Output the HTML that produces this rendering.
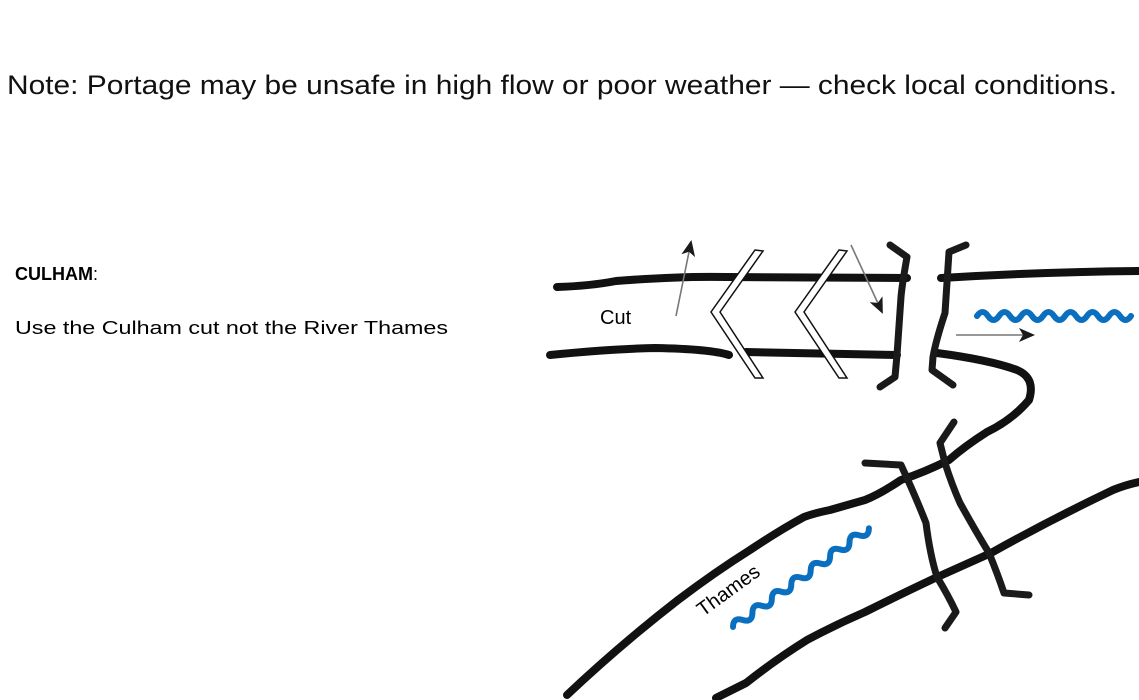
<!DOCTYPE html>
<html><head><meta charset="utf-8"><style>
html,body{margin:0;padding:0;background:#fff;}
svg{display:block;}
</style></head><body>
<svg width="1139" height="700" viewBox="0 0 1139 700" xmlns="http://www.w3.org/2000/svg" font-family="Liberation Sans, Arial, sans-serif">
<defs>
<marker id="ah" markerWidth="16" markerHeight="14" refX="14" refY="7" orient="auto" markerUnits="userSpaceOnUse">
<path d="M0,0 L16,7 L0,14 L4,7 z" fill="#1a1a1a"/>
</marker>
</defs>
<text x="7" y="94" font-size="27" textLength="1110" lengthAdjust="spacingAndGlyphs" fill="#111">Note: Portage may be unsafe in high flow or poor weather — check local conditions.</text>
<text x="15" y="280" font-size="18" font-weight="bold" fill="#000">CULHAM<tspan font-weight="normal">:</tspan></text>
<text x="15" y="334" font-size="18" textLength="433" lengthAdjust="spacingAndGlyphs" fill="#000">Use the Culham cut not the River Thames</text>

<g fill="none" stroke="#111" stroke-width="8" stroke-linecap="round" stroke-linejoin="round">
<path d="M557 287 Q590 286 616 281 Q680 276 727 277 L907 278"/>
<path d="M941 278 Q1040 272 1139 271"/>
<path d="M550 355 Q610 349 655 348 Q710 349 729 355"/>
<path d="M746 352 L897 355"/>
<path d="M937 353 Q990 360 1017 370 Q1036 378 1029 400 Q1012 420 987 432 Q965 446 949 460 Q925 472 901 480 Q880 494 865 500 L830 510 Q815 513 804 517 Q780 530 750 550 Q715 572 678 600 Q620 645 567 695"/>
<path d="M1139 482 Q1125 485 1113 490 Q1050 520 991 553 Q960 567 933 579 Q895 597 865 612 Q835 625 807 640 Q775 660 746 683 L716 698"/>
</g>
<g fill="none" stroke="#1a1a1a" stroke-width="7" stroke-linecap="round" stroke-linejoin="round">
<path d="M890 245 L907 257 Q902 285 901 297 L897 355 L895 377 L880 387"/>
<path d="M966 245 L949 252 L945 313 Q936 340 933 357 L932 370 L953 385"/>
<path d="M865 463 L901 465 Q915 495 926 523 Q930 555 937 577 Q948 595 956 612 L945 628"/>
<path d="M954 422 L940 443 L945 463 Q952 485 960 503 Q975 530 989 553 Q998 575 1004 593 L1029 595"/>
</g>
<g fill="#fff" stroke="#111" stroke-width="1.5" stroke-linejoin="miter">
<path d="M755 250 L763 251 L720 312 L763 378 L755 378 L711 312 Z"/>
<path d="M839 250 L847 251 L804 312 L847 378 L839 378 L795 312 Z"/>
</g>
<g stroke="#777" stroke-width="1.6" fill="none">
<line x1="676" y1="316" x2="691" y2="242" marker-end="url(#ah)"/>
<line x1="851" y1="245" x2="882" y2="312" marker-end="url(#ah)"/>
<line x1="956" y1="335" x2="1033" y2="335" marker-end="url(#ah)"/>
</g>
<g fill="none" stroke="#0a6fbf" stroke-width="6" stroke-linecap="round">
<path d="M977 316 q5.5 -8 11 0 t11 0 t11 0 t11 0 t11 0 t11 0 t11 0 t11 0 t11 0 t11 0 t11 0 t11 0 t11 0 t11 0"/>
<path transform="translate(733,627) rotate(-36)" d="M0 0 q6 -8 12 0 t12 0 t12 0 t12 0 t12 0 t12 0 t12 0 t12 0 t12 0 t12 0 t12 0 t12 0 t12 0 t12 0"/>
</g>
<text x="600" y="324" font-size="20" fill="#000">Cut</text>
<text x="0" y="0" font-size="20" fill="#000" transform="translate(703,617) rotate(-36)">Thames</text>
</svg>
</body></html>
